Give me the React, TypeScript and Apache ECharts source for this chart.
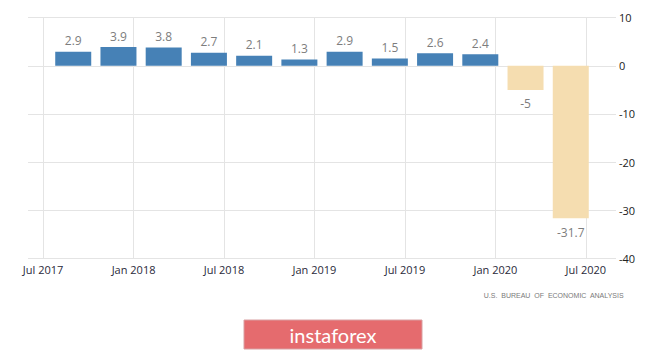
import React, { useEffect, useRef } from "react";
import * as echarts from "echarts";

// Monthly axis from Jun 2017 to Sep 2020
const monthNames = ["Jan", "Feb", "Mar", "Apr", "May", "Jun", "Jul", "Aug", "Sep", "Oct", "Nov", "Dec"];
const axisStart = { year: 2017, month: 5 }; // Jun 2017
const axisMonthCount = 40; // through Sep 2020

// Quarterly GDP growth (annualised, %), placed at the quarter's last month
const quarterPositions = [
  "Sep 2017", "Dec 2017", "Mar 2018", "Jun 2018", "Sep 2018", "Dec 2018",
  "Mar 2019", "Jun 2019", "Sep 2019", "Dec 2019", "Mar 2020", "Jun 2020",
];
const gdpGrowth = [2.9, 3.9, 3.8, 2.7, 2.1, 1.3, 2.9, 1.5, 2.6, 2.4, -5, -31.7];

const xTickLabels = ["Jul 2017", "Jan 2018", "Jul 2018", "Jan 2019", "Jul 2019", "Jan 2020", "Jul 2020"];
const yTicks = [10, 0, -10, -20, -30, -40];

const sourceText = "U.S.  BUREAU  OF  ECONOMIC  ANALYSIS";
const brandText = "instaforex";

const months: string[] = [];
for (let i = 0; i < axisMonthCount; i++) {
  const m = (axisStart.month + i) % 12;
  const y = axisStart.year + Math.floor((axisStart.month + i) / 12);
  months.push(`${monthNames[m]} ${y}`);
}

export default function App() {
  const ref = useRef<HTMLDivElement>(null);

  useEffect(() => {
    if (!ref.current) return;
    const chart = echarts.init(ref.current, null, { renderer: "svg" });
    const gridColor = "#e4e4e4";
    const showTick = (_i: number, v: string) => xTickLabels.indexOf(v) >= 0;

    const data = months.map((m) => {
      const qi = quarterPositions.indexOf(m);
      if (qi < 0) return "-";
      const v = gdpGrowth[qi];
      return {
        value: v,
        itemStyle: { color: v >= 0 ? "#4681b6" : "#f5ddb0" },
        label: {
          position: v >= 0 ? "top" : "bottom",
          distance: v >= 0 ? 5 : 8,
        },
      };
    });

    chart.setOption({
      animation: false,
      grid: { left: 28, right: 49, top: 17.7, bottom: 92.7, containLabel: false },
      xAxis: {
        type: "category",
        data: months,
        boundaryGap: false,
        axisLine: { show: false },
        axisTick: { show: true, interval: showTick, length: 3, lineStyle: { color: gridColor } },
        splitLine: { show: true, interval: showTick, lineStyle: { color: gridColor, width: 1 } },
        axisLabel: {
          interval: showTick,
          margin: 6,
          color: "#2a2a3a",
          fontSize: 11,
          fontFamily: "Open Sans",
        },
      },
      yAxis: {
        type: "value",
        position: "right",
        min: yTicks[yTicks.length - 1],
        max: yTicks[0],
        interval: 10,
        axisLine: { show: false },
        axisTick: { show: false },
        splitLine: { show: true, lineStyle: { color: gridColor, width: 1 } },
        axisLabel: { margin: 3, color: "#222", fontSize: 11, fontFamily: "Open Sans" },
      },
      series: [
        {
          type: "bar",
          data,
          barWidth: 36,
          label: {
            show: true,
            color: "#7d7d7d",
            fontSize: 12,
            fontFamily: "Open Sans",
          },
        },
      ],
      graphic: [
        {
          type: "text",
          right: 41,
          top: 292,
          style: { text: sourceText, fill: "#7a7a7a", fontSize: 7, fontFamily: "Liberation Sans" },
        },
        {
          type: "rect",
          shape: { x: 244, y: 320, width: 178, height: 29 },
          style: { fill: "#e56b6e", stroke: "#d9a0a2", lineWidth: 1 },
        },
        {
          type: "text",
          x: 333,
          y: 334.5,
          style: {
            text: brandText,
            fill: "#ffffff",
            fontSize: 20,
            fontFamily: "Lato",
            align: "center",
            verticalAlign: "middle",
          },
        },
      ],
    });
    return () => chart.dispose();
  }, []);

  return <div ref={ref} style={{ width: 665, height: 351, position: "absolute", left: 0, top: 0 }} />;
}
